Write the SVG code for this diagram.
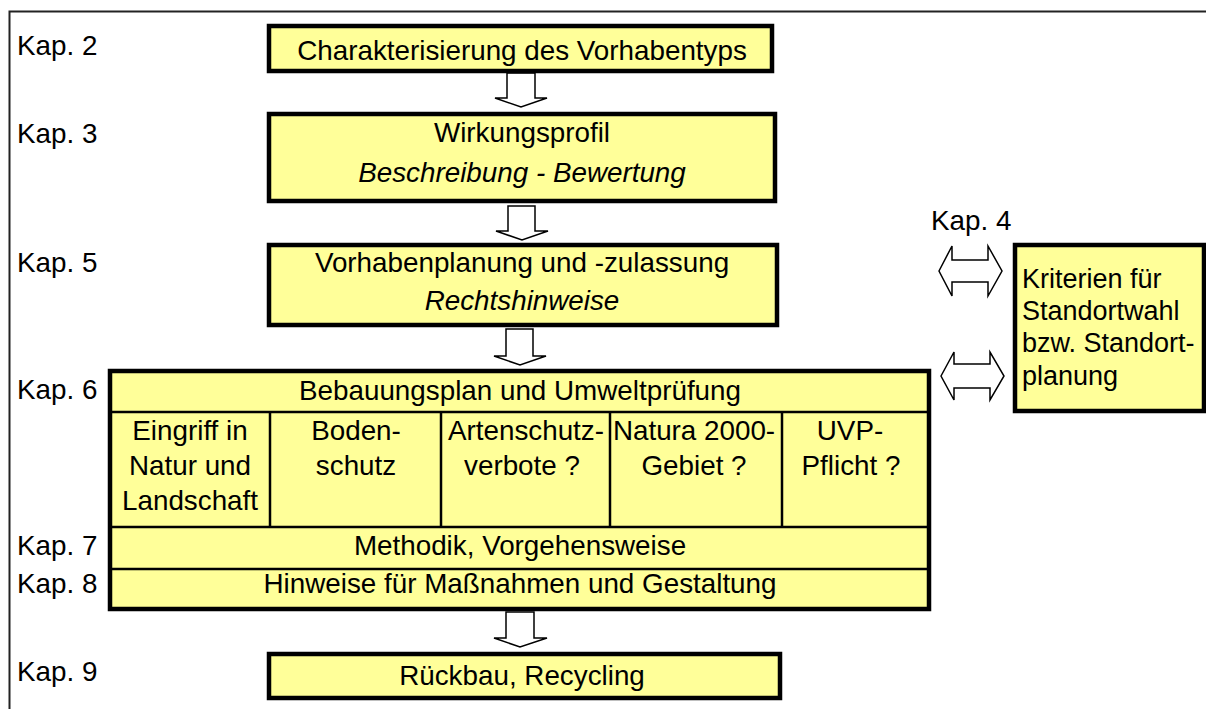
<svg xmlns="http://www.w3.org/2000/svg" width="1206" height="709" viewBox="0 0 1206 709">
<style>
text{font-family:"Liberation Sans",Arial,sans-serif;font-size:27.8px;fill:#000}
.c{text-anchor:middle}
.i{font-style:italic}
.r{font-size:27px}
.box{fill:#FFFF99;stroke:#000;stroke-width:4.5}
.ln{stroke:#000;stroke-width:2.5;fill:none}
.arr{fill:#fff;stroke:#000;stroke-width:1.5;stroke-linejoin:miter}
</style>
<rect x="9.5" y="11.5" width="1260" height="760" fill="#fff" stroke="#222" stroke-width="2"/>
<g id="labels">
<text x="17" y="55">Kap. 2</text>
<text x="17" y="143">Kap. 3</text>
<text x="931" y="230">Kap. 4</text>
<text x="17" y="272">Kap. 5</text>
<text x="17" y="399">Kap. 6</text>
<text x="17" y="555">Kap. 7</text>
<text x="17" y="593">Kap. 8</text>
<text x="17" y="681">Kap. 9</text>
</g>
<g id="connectors">
<polygon class="arr" points="507,73 535,73 535,98 547,98 521,107 495,98 507,98"/>
<polygon class="arr" points="508,206 535,206 535,231 548,231 522,240 496,231 508,231"/>
<polygon class="arr" points="506,329 533,329 533,356 546,356 520,365 494,356 506,356"/>
<polygon class="arr" points="506,612 534,612 534,638 547,638 520,647 494,638 506,638"/>
<polygon class="arr" points="939,271 952,246 952,260 988,260 988,246 1002,271 988,296 988,282 952,282 952,296"/>
<polygon class="arr" points="941,376 954,352 954,364 990,364 990,352 1004,376 990,400 990,388 954,388 954,400"/>
</g>
<g id="n_kap2">
<rect class="box" x="269" y="26" width="503" height="45"/>
<text class="c" x="522" y="60">Charakterisierung des Vorhabentyps</text>
</g>
<g id="n_kap3">
<rect class="box" x="269" y="114" width="506" height="87"/>
<text class="c" x="522" y="142">Wirkungsprofil</text>
<text class="c i" x="522" y="182">Beschreibung - Bewertung</text>
</g>
<g id="n_kap5">
<rect class="box" x="269" y="245" width="508" height="80"/>
<text class="c" x="522" y="272">Vorhabenplanung und -zulassung</text>
<text class="c i" x="522" y="310">Rechtshinweise</text>
</g>
<g id="n_kap4">
<rect class="box" x="1015" y="245" width="189" height="166"/>
<text class="r" x="1022" y="288">Kriterien für</text>
<text class="r" x="1022" y="320">Standortwahl</text>
<text class="r" x="1022" y="352">bzw. Standort-</text>
<text class="r" x="1022" y="385">planung</text>
</g>
<g id="n_kap6_8">
<rect class="box" x="110" y="371" width="819" height="238"/>
<line class="ln" x1="110" y1="412" x2="929" y2="412"/>
<line class="ln" x1="110" y1="527" x2="929" y2="527"/>
<line class="ln" x1="110" y1="569" x2="929" y2="569"/>
<line class="ln" x1="270" y1="412" x2="270" y2="527"/>
<line class="ln" x1="441" y1="412" x2="441" y2="527"/>
<line class="ln" x1="610" y1="412" x2="610" y2="527"/>
<line class="ln" x1="782" y1="412" x2="782" y2="527"/>
<text class="c" x="520" y="400">Bebauungsplan und Umweltprüfung</text>
<text class="c" x="190" y="440">Eingriff in</text>
<text class="c" x="190" y="475">Natur und</text>
<text class="c" x="190" y="510">Landschaft</text>
<text class="c" x="356" y="440">Boden-</text>
<text class="c" x="356" y="475">schutz</text>
<text class="c" x="526" y="440">Artenschutz-</text>
<text class="c" x="522" y="475">verbote ?</text>
<text class="c" x="694" y="440">Natura 2000-</text>
<text class="c" x="694" y="475">Gebiet ?</text>
<text class="c" x="850" y="440">UVP-</text>
<text class="c" x="851" y="475">Pflicht ?</text>
<text class="c" x="520" y="555">Methodik, Vorgehensweise</text>
<text class="c" x="520" y="593">Hinweise für Maßnahmen und Gestaltung</text>
</g>
<g id="n_kap9">
<rect class="box" x="269" y="654" width="511" height="44"/>
<text class="c" x="522" y="685">Rückbau, Recycling</text>
</g>
</svg>
